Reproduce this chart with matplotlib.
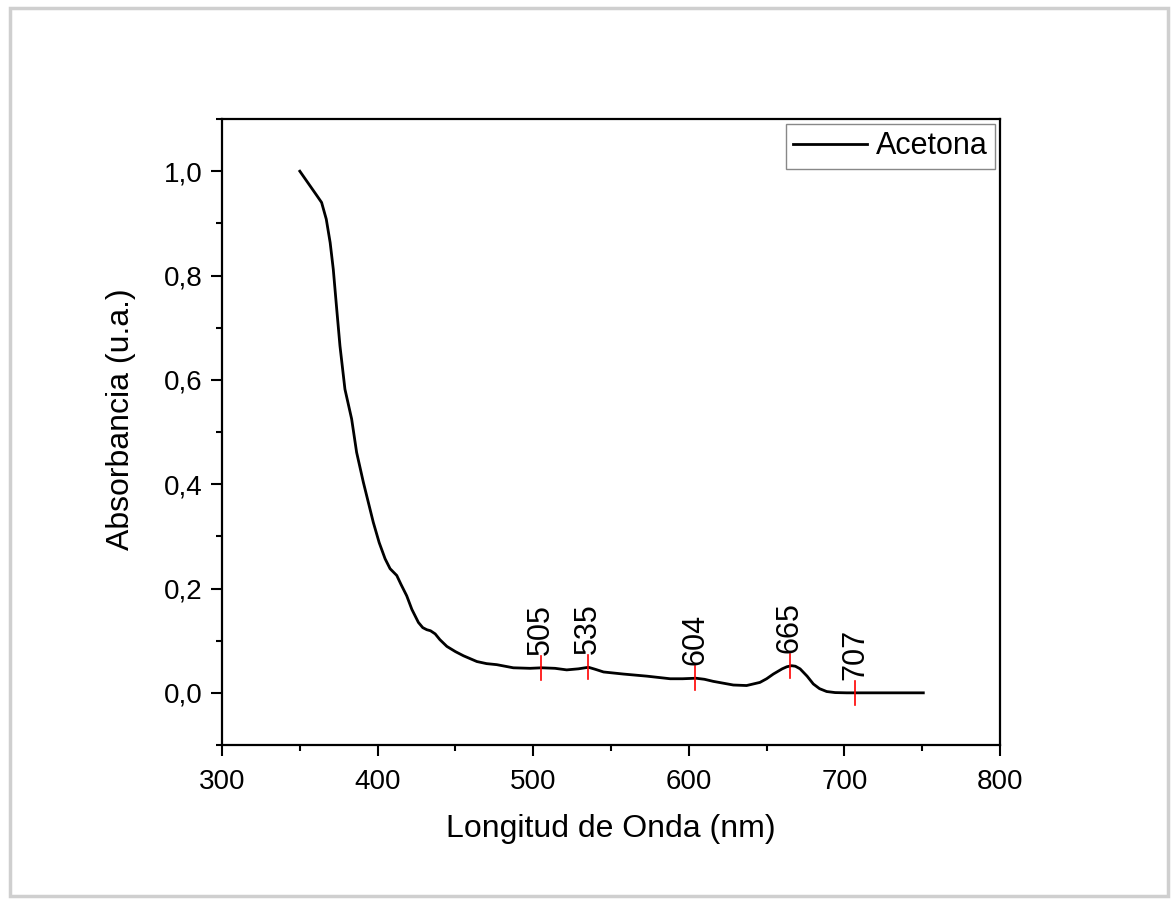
import matplotlib
matplotlib.use('Agg')
from matplotlib import pyplot as plt
from matplotlib.patches import Rectangle
from matplotlib.ticker import MultipleLocator, FuncFormatter

plt.rcParams['font.family'] = ['Liberation Sans', 'DejaVu Sans']

# 스펙트럼 데이터
wavelength = [350, 361, 364, 367, 369.5, 371.5, 373.7, 375.8, 379, 383.3, 386.5,
              390.8, 397.2, 401, 404.8, 408, 412.3, 415, 418.7, 422, 426.2, 429, 431.6, 434,
              437, 440, 444.5, 450, 455.2, 463.8, 470, 476.6, 487.2, 498, 505.5, 514,
              521.5, 529, 535.5, 540, 545.2, 558, 573, 588, 596, 604.6, 610, 615.7,
              628.6, 637.1, 645.7, 650, 654.3, 660, 663, 666.1, 668.5, 671.5, 676, 680,
              684, 688.6, 694, 701.5, 750.7]
absorbance = [1.0, 0.953, 0.94, 0.908, 0.863, 0.812, 0.736, 0.665, 0.582, 0.525, 0.461,
              0.404, 0.327, 0.288, 0.257, 0.238, 0.225, 0.208, 0.186, 0.160, 0.135, 0.125, 0.121, 0.119,
              0.113, 0.102, 0.089, 0.079, 0.071, 0.060, 0.056, 0.054, 0.048, 0.047, 0.048, 0.047,
              0.044, 0.046, 0.049, 0.045, 0.040, 0.036, 0.032, 0.027, 0.027, 0.028, 0.026, 0.022,
              0.015, 0.014, 0.020, 0.027, 0.036, 0.046, 0.050, 0.052, 0.051, 0.046, 0.032, 0.017,
              0.008, 0.0025, 0.0005, 0.0, 0.0]

# 표시된 피크 위치
peak_nm = [505, 535, 604, 665, 707]
peak_abs = [0.048, 0.049, 0.028, 0.052, 0.0]
peak_labels = ['505', '535', '604', '665', '707']

fig = plt.figure(figsize=(11.71, 8.99), dpi=100)
ax = fig.add_axes([0.1896, 0.1713, 0.6644, 0.6963])

ax.plot(wavelength, absorbance, color='black', lw=2.0, label='Acetona',
        solid_joinstyle='round')

# 빨간 표시선과 세로 라벨
for xp, yp, lab in zip(peak_nm, peak_abs, peak_labels):
    ax.plot([xp, xp], [yp - 0.023, yp + 0.023], color='red', lw=1.2)
    ax.text(xp, yp + 0.025, lab, rotation=90, ha='center', va='bottom', fontsize=22)

ax.set_xlim(300, 800)
ax.set_ylim(-0.1, 1.1)
ax.xaxis.set_major_locator(MultipleLocator(100))
ax.xaxis.set_minor_locator(MultipleLocator(50))
ax.yaxis.set_major_locator(MultipleLocator(0.2))
ax.yaxis.set_minor_locator(MultipleLocator(0.1))
ax.yaxis.set_major_formatter(FuncFormatter(lambda v, p: ('%.1f' % v).replace('.', ',').replace('-0,0', '0,0')))

ax.tick_params(which='major', direction='out', length=8, width=1.5, labelsize=20, pad=6)
ax.tick_params(axis='x', which='major', pad=9)
ax.tick_params(which='minor', direction='out', length=4.5, width=1.5)
ax.tick_params(top=False, right=False)
for s in ax.spines.values():
    s.set_linewidth(1.6)

ax.set_xlabel('Longitud de Onda (nm)', fontsize=23, labelpad=14)
ax.set_ylabel('Absorbancia (u.a.)', fontsize=23)
ax.yaxis.set_label_coords(-0.111, 0.52)

leg = ax.legend(loc='upper right', fontsize=22, fancybox=False, framealpha=1,
                edgecolor='#888888', handlelength=2.4, borderaxespad=0.15,
                borderpad=0.25, handletextpad=0.3)
leg.get_frame().set_linewidth(1.0)

# 바깥 테두리
fig.patches.append(Rectangle((10 / 1171, 3 / 899), 1158 / 1171, 888 / 899,
                             transform=fig.transFigure, fill=False,
                             edgecolor='#cfcfcf', lw=2.5))

fig.savefig('out.png', dpi=100)
